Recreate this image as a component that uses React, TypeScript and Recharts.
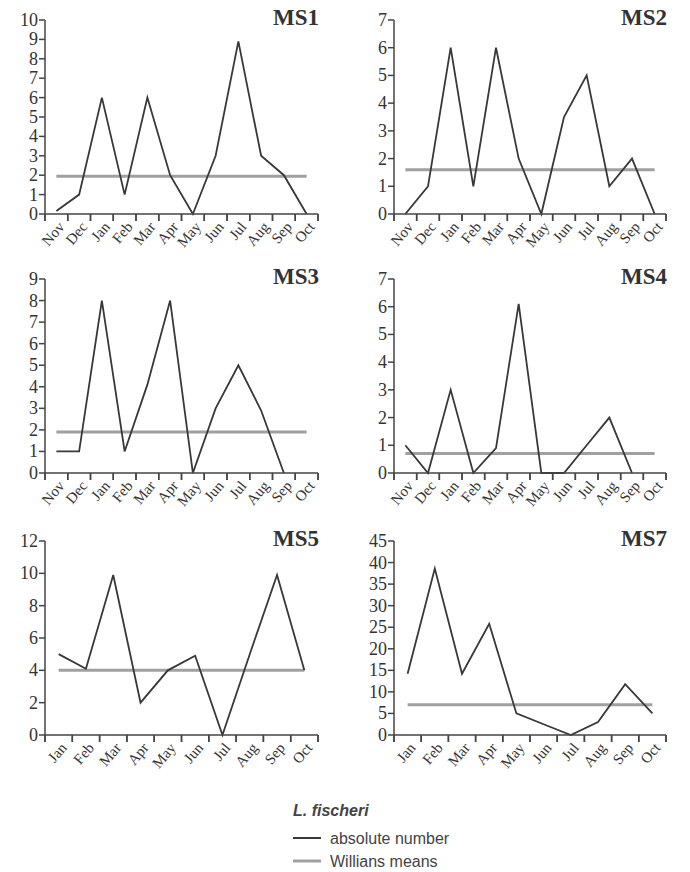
import React from "react";
import { LineChart, Line, XAxis, YAxis } from "recharts";

const monthsNovOct = ["Nov", "Dec", "Jan", "Feb", "Mar", "Apr", "May", "Jun", "Jul", "Aug", "Sep", "Oct"];
const monthsJanOct = ["Jan", "Feb", "Mar", "Apr", "May", "Jun", "Jul", "Aug", "Sep", "Oct"];

const ms1Values = [0.15, 1, 6, 1, 6, 2, 0, 3, 8.9, 3, 2, 0];
const ms2Values = [0, 1, 6, 1, 6, 2, 0, 3.5, 5, 1, 2, 0];
const ms3Values = [1, 1, 8, 1, 4.1, 8, 0, 3, 5, 2.9, 0, null];
const ms4Values = [1, 0, 3, 0, 0.9, 6.1, 0, 0, 1, 2, 0, null];
const ms5Values = [5, 4.1, 9.9, 2, 4, 4.9, 0, 5, 9.9, 4];
const ms7Values = [14.2, 38.6, 14.2, 25.8, 5, 2.5, 0, 3, 11.8, 5];

const ms1Mean = 1.95;
const ms2Mean = 1.6;
const ms3Mean = 1.9;
const ms4Mean = 0.7;
const ms5Mean = 4;
const ms7Mean = 7;

const ms1Ticks = [0, 1, 2, 3, 4, 5, 6, 7, 8, 9, 10];
const ms2Ticks = [0, 1, 2, 3, 4, 5, 6, 7];
const ms3Ticks = [0, 1, 2, 3, 4, 5, 6, 7, 8, 9];
const ms4Ticks = [0, 1, 2, 3, 4, 5, 6, 7];
const ms5Ticks = [0, 2, 4, 6, 8, 10, 12];
const ms7Ticks = [0, 5, 10, 15, 20, 25, 30, 35, 40, 45];

const DARK = "#383838";
const GREY = "#a0a0a0";
const AXIS = "#444";
const SERIF = "'Liberation Serif', 'Times New Roman', serif";
const SANS = "'Liberation Sans', Arial, sans-serif";
const CHART_W = 345;

// x = 2*i+1: band edges sit on even numbers, month centres on odd ones
const buildRows = (months: string[], values: (number | null)[], mean: number) =>
  months.map((m, i) => ({ x: 2 * i + 1, month: m, value: values[i], mean }));

// edge axis: tick y arrives tickSize + tickMargin below the axis line
const EdgeTick = (props: any) => {
  const { x, y } = props;
  const axisY = y - 9;
  return <path d={`M${x},${axisY}L${x},${axisY + 7}`} stroke={AXIS} strokeWidth={1.5} fill="none" />;
};

// label axis sits 8px under the edge axis; its tick y is another 8px lower
const MonthTick = (props: any) => {
  const { x, y, payload, months } = props;
  const idx = (Number(payload.value) - 1) / 2;
  return (
    <text
      transform={`translate(${x + 5}, ${y - 6}) rotate(-50)`}
      textAnchor="end"
      dominantBaseline="central"
      style={{ fontFamily: SERIF, fontSize: 15, fill: "#333" }}
    >
      {months[idx]}
    </text>
  );
};

const ValueTick = (props: any) => {
  const { x, y, payload } = props;
  return (
    <text x={x} y={y} textAnchor="end" dominantBaseline="central" style={{ fontFamily: SERIF, fontSize: 18, fill: "#333" }}>
      {payload.value}
    </text>
  );
};

interface PanelProps {
  title: string;
  left: number;
  top: number;
  months: string[];
  values: (number | null)[];
  mean: number;
  ticks: number[];
  axisWidth: number;
  rightMargin: number;
}

const Panel: React.FC<PanelProps> = ({ title, left, top, months, values, mean, ticks, axisWidth, rightMargin }) => {
  const data = buildRows(months, values, mean);
  const n = months.length;
  const edgeTicks = Array.from({ length: n + 1 }, (_, k) => 2 * k);
  const centreTicks = months.map((_, i) => 2 * i + 1);
  return (
    <div style={{ position: "absolute", left, top, width: CHART_W, height: 270 }}>
      <LineChart width={CHART_W} height={270} data={data} margin={{ top: 20, right: rightMargin, bottom: 0, left: 0 }}>
        <XAxis
          xAxisId="edges"
          dataKey="x"
          type="number"
          domain={[0, 2 * n]}
          ticks={edgeTicks}
          interval={0}
          height={8}
          tickSize={7}
          tickMargin={2}
          axisLine={{ stroke: AXIS, strokeWidth: 1.5 }}
          tickLine={{ stroke: AXIS, strokeWidth: 1.5 }}
          tick={<EdgeTick />}
        />
        <XAxis
          xAxisId="labels"
          dataKey="x"
          type="number"
          domain={[0, 2 * n]}
          ticks={centreTicks}
          interval={0}
          height={48}
          axisLine={false}
          tickLine={false}
          tickSize={6}
          tickMargin={2}
          tick={<MonthTick months={months} />}
        />
        <YAxis
          width={axisWidth}
          domain={[ticks[0], ticks[ticks.length - 1]]}
          ticks={ticks}
          interval={0}
          tickSize={6}
          tickMargin={1}
          axisLine={{ stroke: AXIS, strokeWidth: 1.5 }}
          tickLine={{ stroke: AXIS, strokeWidth: 1.5 }}
          tick={<ValueTick />}
        />
        <Line xAxisId="edges" dataKey="mean" stroke={GREY} strokeWidth={3} dot={false} isAnimationActive={false} />
        <Line xAxisId="edges" dataKey="value" stroke={DARK} strokeWidth={1.8} dot={false} isAnimationActive={false} />
      </LineChart>
      <div
        style={{
          position: "absolute",
          right: rightMargin - 1,
          top: 6,
          fontFamily: SERIF,
          fontWeight: "bold",
          fontSize: 23,
          lineHeight: "23px",
          color: "#333",
        }}
      >
        {title}
      </div>
    </div>
  );
};

export default function App() {
  return (
    <div style={{ position: "absolute", left: 0, top: 0, width: 690, height: 872, background: "#fff" }}>
      <Panel title="MS1" left={0} top={0} months={monthsNovOct} values={ms1Values} mean={ms1Mean} ticks={ms1Ticks} axisWidth={45} rightMargin={27} />
      <Panel title="MS2" left={345} top={0} months={monthsNovOct} values={ms2Values} mean={ms2Mean} ticks={ms2Ticks} axisWidth={49} rightMargin={24} />
      <Panel title="MS3" left={0} top={259} months={monthsNovOct} values={ms3Values} mean={ms3Mean} ticks={ms3Ticks} axisWidth={45} rightMargin={27} />
      <Panel title="MS4" left={345} top={259} months={monthsNovOct} values={ms4Values} mean={ms4Mean} ticks={ms4Ticks} axisWidth={49} rightMargin={24} />
      <Panel title="MS5" left={0} top={521} months={monthsJanOct} values={ms5Values} mean={ms5Mean} ticks={ms5Ticks} axisWidth={45} rightMargin={27} />
      <Panel title="MS7" left={345} top={521} months={monthsJanOct} values={ms7Values} mean={ms7Mean} ticks={ms7Ticks} axisWidth={49} rightMargin={24} />
      <svg style={{ position: "absolute", left: 0, top: 790 }} width={690} height={82}>
        <text x={293} y={26} fontFamily={SANS} fontSize={16} fontWeight="bold" fontStyle="italic" fill="#444">
          L. fischeri
        </text>
        <line x1={293} y1={48} x2={321} y2={48} stroke={DARK} strokeWidth={2} />
        <text x={330} y={54} fontFamily={SANS} fontSize={16} fill="#444">
          absolute number
        </text>
        <line x1={293} y1={71} x2={321} y2={71} stroke={GREY} strokeWidth={3} />
        <text x={330} y={77} fontFamily={SANS} fontSize={16} fill="#444">
          Willians means
        </text>
      </svg>
    </div>
  );
}
